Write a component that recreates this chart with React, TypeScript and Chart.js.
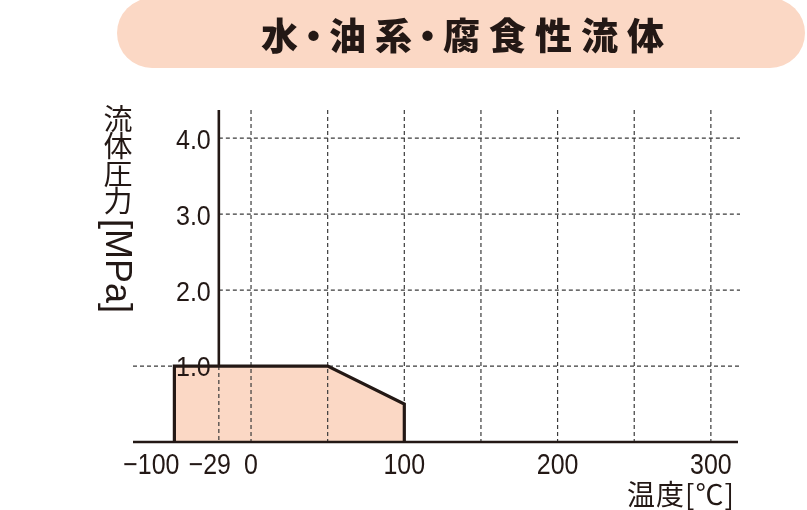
import { useEffect, useRef } from 'react';
import { Chart, registerables } from 'chart.js';

Chart.register(...registerables);

// 使用範囲: 温度 [℃] / 流体圧力 [MPa]
const temps = [-100, -100, 50, 100, 100];
const pressures = [0, 1.0, 1.0, 0.5, 0];

const xTickTemps = [-100, -29, 0, 100, 200, 300];
const xTickLabels = ['−100', '−29', '0', '100', '200', '300'];
const xGridTemps = [-29, 0, 50, 100, 150, 200, 250, 300];
const yTicks = [1.0, 2.0, 3.0, 4.0];
const yTickLabels = ['1.0', '2.0', '3.0', '4.0'];

// the low-temperature side is drawn compressed in the original sheet
const breakFrom = [-100, -29, 0];
const breakTo = [-50, -21, 0];

function toAxis(t: number) {
  if (t >= 0) return t;
  for (let i = 0; i < breakFrom.length - 1; i++) {
    const a = breakFrom[i];
    const b = breakFrom[i + 1];
    if (t >= a && t <= b) {
      return breakTo[i] + ((t - a) / (b - a)) * (breakTo[i + 1] - breakTo[i]);
    }
  }
  return breakTo[0] + (t - breakFrom[0]);
}

const ink = '#231815';
const gridInk = '#3b3b3b';
const peach = '#fbd8c5';
const numFont = '"Liberation Sans", Arial, sans-serif';

// label nudges in px (the sheet places a couple of them by hand)
const xLabelShift: Record<string, { dx: number; align: CanvasTextAlign }> = {
  '−100': { dx: 5, align: 'right' },
  '−29': { dx: -9, align: 'center' },
};

// condensed look: squeeze the glyphs horizontally
function narrowText(ctx: CanvasRenderingContext2D, text: string, x: number, y: number, align: CanvasTextAlign, sx: number) {
  ctx.save();
  ctx.translate(x, y);
  ctx.scale(sx, 1);
  ctx.textAlign = align;
  ctx.fillText(text, 0, 0);
  ctx.restore();
}

const axesPlugin = {
  id: 'axesPlugin',
  afterDatasetDraw(chart: any, args: any) {
    if (args.index !== 0) return; // grid goes over the fill, under the outline
    const { ctx, chartArea, scales } = chart;
    const x = scales.x;
    const y = scales.y;
    const yAxisPx = x.getPixelForValue(toAxis(-29));
    const onePx = y.getPixelForValue(1);
    ctx.save();
    ctx.strokeStyle = gridInk;
    ctx.lineWidth = 1.2;
    ctx.setLineDash([4, 3]);
    xGridTemps.forEach((t) => {
      const px = x.getPixelForValue(toAxis(t));
      const top = t === -29 ? onePx : chartArea.top;
      ctx.beginPath();
      ctx.moveTo(px, top);
      ctx.lineTo(px, chartArea.bottom);
      ctx.stroke();
    });
    yTicks.forEach((v) => {
      const py = y.getPixelForValue(v);
      const left = v === 1 ? chartArea.left : yAxisPx;
      ctx.beginPath();
      ctx.moveTo(left, py);
      ctx.lineTo(chartArea.right + 2, py);
      ctx.stroke();
    });
    ctx.restore();
  },
  afterDatasetsDraw(chart: any) {
    const { ctx, chartArea, scales } = chart;
    const x = scales.x;
    const y = scales.y;
    const yAxisPx = x.getPixelForValue(toAxis(-29));
    const onePx = y.getPixelForValue(1);
    ctx.save();
    ctx.strokeStyle = ink;
    ctx.lineWidth = 2.6;
    ctx.setLineDash([]);
    ctx.beginPath();
    ctx.moveTo(chartArea.left, chartArea.bottom);
    ctx.lineTo(chartArea.right, chartArea.bottom);
    ctx.moveTo(yAxisPx, chartArea.top);
    ctx.lineTo(yAxisPx, onePx);
    ctx.stroke();

    ctx.fillStyle = ink;
    ctx.font = `27px ${numFont}`;
    ctx.textBaseline = 'middle';
    yTicks.forEach((v, i) => {
      narrowText(ctx, yTickLabels[i], yAxisPx - 8, y.getPixelForValue(v) + 3, 'right', 0.93);
    });

    ctx.font = `29px ${numFont}`;
    ctx.textBaseline = 'alphabetic';
    xTickTemps.forEach((t, i) => {
      const label = xTickLabels[i];
      const nudge = xLabelShift[label] || { dx: 0, align: 'center' as CanvasTextAlign };
      narrowText(ctx, label, x.getPixelForValue(toAxis(t)) + nudge.dx, chartArea.bottom + 32, nudge.align, 0.86);
    });
    ctx.restore();
  },
};

function PressureChart() {
  const chartRef = useRef<HTMLCanvasElement | null>(null);
  const chartInstance = useRef<Chart | null>(null);

  useEffect(() => {
    if (!chartRef.current) return;
    const ctx = chartRef.current.getContext('2d');
    if (!ctx) return;

    const points = temps.map((t, i) => ({ x: toAxis(t), y: pressures[i] }));

    chartInstance.current = new Chart(ctx, {
      type: 'line',
      data: {
        datasets: [
          {
            label: 'fill',
            data: points,
            borderWidth: 0,
            borderColor: 'rgba(0,0,0,0)',
            backgroundColor: peach,
            fill: 'origin',
            pointRadius: 0,
            order: 2,
          },
          {
            label: 'outline',
            data: points,
            borderWidth: 3.2,
            borderColor: ink,
            borderJoinStyle: 'miter',
            fill: false,
            pointRadius: 0,
            order: 1,
          },
        ],
      } as any,
      options: {
        animation: false,
        responsive: false,
        maintainAspectRatio: false,
        layout: { padding: { left: 133, right: 69, top: 110, bottom: 68 } },
        scales: {
          x: { type: 'linear', display: false, min: -77, max: 317.7 },
          y: { type: 'linear', display: false, min: 0, max: 4.37 },
        },
        plugins: {
          legend: { display: false },
          tooltip: { enabled: false },
        },
      } as any,
      plugins: [axesPlugin],
    });

    return () => {
      if (chartInstance.current) {
        chartInstance.current.destroy();
        chartInstance.current = null;
      }
    };
  }, []);

  const dot = { display: 'inline-block', marginLeft: -12, marginRight: -12 } as const;

  return (
    <div style={{ position: 'relative', width: 807, height: 510, overflow: 'hidden', background: '#fff' }}>
      <canvas ref={chartRef} width={807} height={510} style={{ position: 'absolute', left: 0, top: 0 }} />
      <div
        style={{
          position: 'absolute',
          left: 117,
          top: -2,
          width: 688,
          height: 70,
          borderRadius: 35,
          background: peach,
          display: 'flex',
          alignItems: 'center',
          justifyContent: 'center',
          paddingTop: 2,
          paddingLeft: 12,
          boxSizing: 'border-box',
          fontFamily: '"Noto Sans CJK JP", sans-serif',
          fontWeight: 900,
          fontSize: 37,
          letterSpacing: 9,
          color: ink,
          whiteSpace: 'nowrap',
        }}
      >
        水<span style={dot}>・</span>油系<span style={dot}>・</span>腐食性流体
      </div>
      <div
        style={{
          position: 'absolute',
          left: 102,
          top: 104,
          writingMode: 'vertical-rl',
          fontFamily: '"Noto Sans CJK JP", sans-serif',
          fontSize: 29,
          letterSpacing: -1.5,
          lineHeight: '31px',
          color: ink,
        }}
      >
        流体圧力
        <span style={{ fontFamily: '"Liberation Sans", sans-serif', fontSize: 36, letterSpacing: 0, marginTop: 5, display: 'inline-block' }}>
          [MPa]
        </span>
      </div>
      <div
        style={{
          position: 'absolute',
          left: 627,
          top: 477,
          fontFamily: '"Noto Sans CJK JP", sans-serif',
          fontSize: 28,
          lineHeight: '32px',
          letterSpacing: 1,
          color: ink,
          whiteSpace: 'nowrap',
        }}
      >
        温度[℃]
      </div>
    </div>
  );
}

export default function App() {
  useEffect(() => {
    document.body.style.margin = '0';
  }, []);
  return <PressureChart />;
}
